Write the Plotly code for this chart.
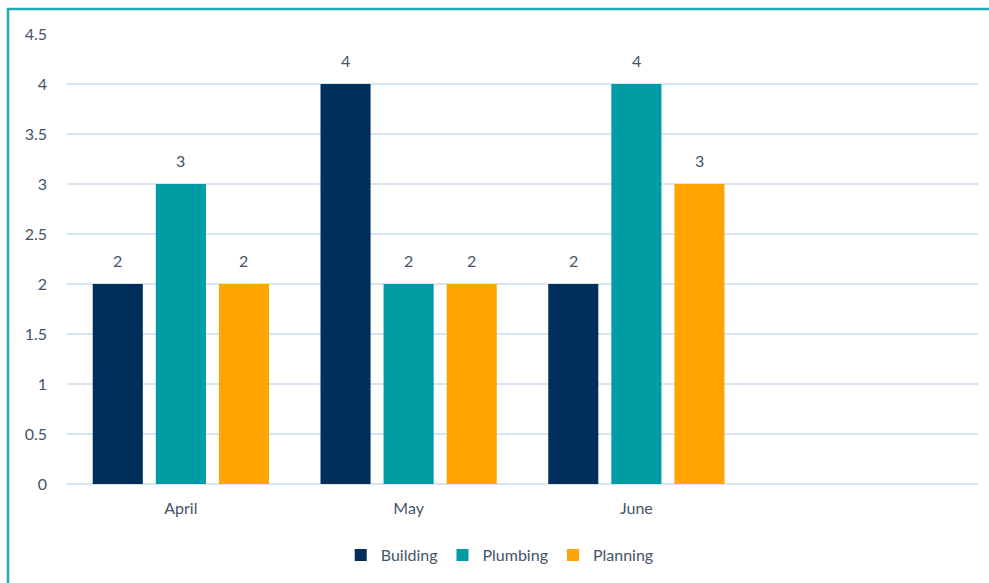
import plotly.graph_objects as go

months = ["April", "May", "June", " "]
building = [2, 4, 2]
plumbing = [3, 2, 4]
planning = [2, 2, 3]

series = [
    ("Building", building, "#002F5C"),
    ("Plumbing", plumbing, "#009CA6"),
    ("Planning", planning, "#FFA400"),
]

label_color = "#44546A"
font_family = "Lato, 'Open Sans', sans-serif"

# horizontal offset (px) of each series' bar within its month group
slot_px = 63

fig = go.Figure()
for i, (name, vals, color) in enumerate(series):
    fig.add_trace(go.Bar(
        name=name,
        x=months[:len(vals)],
        y=vals,
        marker=dict(color=color, line=dict(width=0)),
        cliponaxis=False,
    ))
    # value labels floating above each bar
    for m, v in zip(months, vals):
        fig.add_annotation(
            x=m, y=v, xref="x", yref="y", text=str(v), showarrow=False,
            xshift=(i - 1) * slot_px, yshift=24, yanchor="middle",
            font=dict(size=16, color=label_color, family=font_family),
        )

fig.update_layout(
    width=989, height=583,
    margin=dict(l=67, r=11, t=34, b=99),
    paper_bgcolor="white", plot_bgcolor="white",
    barmode="group", bargap=0.169, bargroupgap=0.206,
    font=dict(family=font_family, size=16, color=label_color),
    showlegend=True,
    legend=dict(orientation="h", x=0.475, xanchor="center", y=-0.12, yanchor="top",
                font=dict(size=16, color=label_color), itemwidth=30,
                traceorder="normal"),
    xaxis=dict(type="category", categoryorder="array", categoryarray=months,
               range=[-0.5, 3.5], showgrid=False, showline=False, zeroline=False,
               ticks="", ticklabelstandoff=13, tickfont=dict(size=16)),
    yaxis=dict(range=[0, 4.5], dtick=0.5, tickformat="~g",
               showgrid=True, gridcolor="#D9E4F1", gridwidth=1.5,
               zeroline=True, zerolinecolor="#D9E4F1", zerolinewidth=1.5,
               showline=False, ticks="", ticklabelstandoff=19,
               tickfont=dict(size=16)),
    shapes=[dict(type="rect", xref="paper", yref="paper",
                 x0=-67/911 + 8/911, x1=1.2, y0=-0.3, y1=1 + 25/450,
                 line=dict(color="#20A8B4", width=2.5), fillcolor="rgba(0,0,0,0)",
                 layer="above")],
)

fig.write_html("out.html")
